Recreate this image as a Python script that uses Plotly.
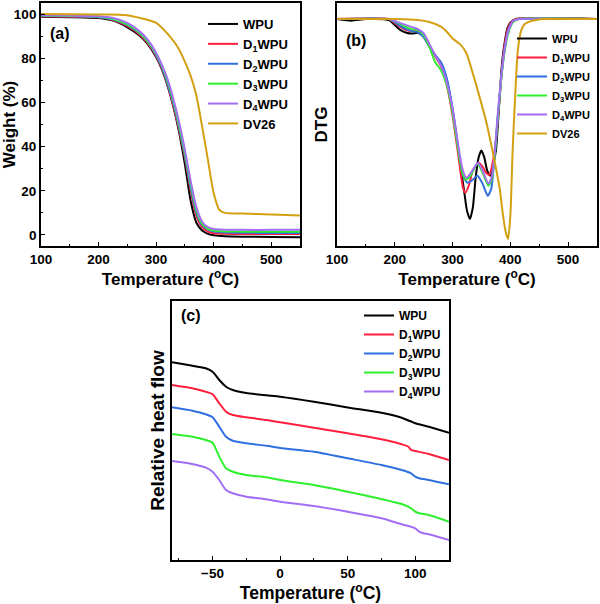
import plotly.graph_objects as go

# ---------------- Panel (a): TGA ----------------
tga_T = [100, 150, 200, 225, 250, 270, 285, 300, 310, 320, 330, 340, 350, 360, 370, 380, 390, 400, 420, 450, 500, 550]
tga_WPU = [98.8, 98.6, 98.2, 97.0, 94.0, 90.5, 86.5, 80.5, 75.0, 67.5, 58.0, 46.5, 32.0, 15.5, 5.5, 2.0, 0.5, -0.1, -0.6, -0.8, -0.9, -1.0]
tga_D1 = [99.0, 98.8, 98.5, 97.3, 94.5, 91.0, 87.0, 81.0, 75.5, 68.0, 58.5, 47.5, 35.0, 20.0, 8.5, 3.5, 1.5, 0.8, 0.5, 0.4, 0.4, 0.4]
tga_D2 = [99.2, 99.0, 98.6, 97.5, 95.0, 91.5, 87.5, 81.5, 76.0, 68.5, 59.5, 48.5, 36.0, 21.5, 10.0, 4.5, 2.5, 1.6, 1.1, 1.0, 0.9, 0.9]
tga_D3 = [99.3, 99.1, 98.8, 97.8, 95.3, 91.8, 87.8, 82.0, 76.5, 69.5, 60.5, 49.5, 37.0, 23.0, 11.0, 5.0, 2.8, 2.0, 1.6, 1.5, 1.4, 1.4]
tga_D4 = [99.5, 99.3, 99.0, 98.2, 96.0, 92.5, 88.5, 82.5, 77.0, 70.5, 61.5, 51.0, 38.5, 24.5, 12.5, 6.0, 3.5, 2.7, 2.4, 2.3, 2.3, 2.3]
tga_DV_T = [100, 200, 250, 300, 320, 340, 360, 370, 380, 390, 400, 410, 420, 450, 500, 550]
tga_DV26 = [100.0, 99.8, 99.5, 96.0, 91.0, 84.0, 72.0, 63.0, 49.0, 34.0, 19.0, 11.3, 10.0, 9.7, 9.3, 8.8]

# ---------------- Panel (b): DTG (arbitrary units) ----------------
dtg_WPU_T = [100, 125, 150, 190, 200, 210, 220, 230, 240, 250, 260, 270, 280, 290, 300, 310, 320, 325, 330, 335, 340, 345, 350, 355, 360, 365, 370, 375, 380, 385, 390, 395, 400, 410, 550]
dtg_WPU = [0, -0.08, 0, -0.05, -0.3, -0.55, -0.68, -0.72, -0.68, -0.88, -1.38, -1.8, -2.2, -3.05, -4.55, -6.55, -8.55, -9.55, -9.95, -9.4, -7.9, -6.9, -6.55, -6.9, -7.55, -7.8, -7.3, -6.55, -4.55, -2.4, -1.2, -0.45, -0.18, 0, 0]
dtg_D1_T = [100, 190, 200, 210, 220, 230, 240, 250, 260, 270, 280, 290, 300, 310, 318, 322, 328, 335, 345, 352, 358, 364, 370, 375, 380, 385, 390, 395, 400, 410, 550]
dtg_D1 = [0, 0, -0.2, -0.4, -0.55, -0.6, -0.6, -0.85, -1.35, -1.85, -2.35, -3.3, -4.8, -6.8, -8.4, -8.65, -8.3, -7.55, -7.15, -7.35, -7.65, -7.75, -7.05, -6.05, -4.45, -2.65, -1.3, -0.55, -0.2, 0, 0]
dtg_D2_T = [100, 190, 200, 210, 220, 230, 240, 250, 260, 270, 280, 290, 300, 310, 318, 326, 333, 343, 352, 361, 367, 372, 378, 384, 390, 395, 400, 405, 415, 550]
dtg_D2 = [0, 0, -0.15, -0.35, -0.5, -0.6, -0.65, -0.9, -1.35, -1.8, -2.15, -2.95, -4.45, -6.45, -7.8, -8.15, -8.05, -7.8, -8.2, -8.8, -8.45, -7.05, -5.05, -3.05, -1.55, -0.7, -0.3, -0.1, 0, 0]
dtg_D3_T = [100, 190, 200, 210, 220, 230, 240, 250, 260, 270, 280, 290, 300, 310, 317, 323, 330, 343, 352, 362, 368, 373, 378, 384, 390, 395, 400, 405, 415, 550]
dtg_D3 = [0, 0, -0.1, -0.25, -0.4, -0.5, -0.55, -0.8, -1.4, -2.15, -2.55, -3.3, -4.65, -6.55, -7.65, -8.0, -7.85, -7.2, -7.65, -8.3, -7.95, -6.8, -4.95, -3.05, -1.65, -0.85, -0.4, -0.15, 0, 0]
dtg_D4_T = [100, 190, 200, 210, 220, 230, 240, 250, 260, 270, 280, 290, 300, 310, 317, 324, 332, 344, 352, 362, 368, 373, 378, 384, 390, 395, 400, 405, 415, 550]
dtg_D4 = [0, 0, -0.1, -0.2, -0.3, -0.4, -0.5, -0.7, -1.25, -1.8, -2.3, -3.15, -4.45, -6.3, -7.45, -7.9, -7.65, -7.15, -7.55, -8.2, -7.85, -6.65, -4.8, -2.95, -1.55, -0.75, -0.35, -0.1, 0, 0]
dtg_DV_T = [100, 200, 240, 260, 280, 290, 300, 313, 324, 336, 347, 359, 368, 376, 382, 387, 392, 396, 400, 404, 408, 413, 419, 425, 433, 445, 460, 550]
dtg_DV26 = [0.02, 0.0, -0.05, -0.15, -0.38, -0.63, -0.97, -1.25, -1.7, -2.8, -3.9, -5.2, -6.4, -7.55, -8.5, -9.7, -10.6, -10.95, -9.8, -6.55, -4.05, -1.55, -0.55, -0.25, -0.13, -0.05, 0.0, 0.0]

# ---------------- Panel (c): DSC (relative heat flow) ----------------
dsc_T = [-80, -65, -55, -50, -45, -40, -35, -25, -10, 0, 25, 50, 75, 90, 95, 97, 100, 110, 125]
dsc_WPU = [19.77, 19.43, 19.17, 18.83, 18.0, 17.33, 17.0, 16.7, 16.47, 16.33, 15.83, 15.25, 14.73, 14.23, 13.95, 13.85, 13.67, 13.33, 12.73]
dsc_D1 = [17.5, 17.17, 16.83, 16.57, 15.67, 14.83, 14.5, 14.27, 14.0, 13.77, 13.23, 12.67, 12.07, 11.57, 11.33, 11.0, 10.9, 10.6, 10.0]
dsc_T2 = [-80, -65, -55, -50, -45, -40, -35, -25, -10, 0, 25, 50, 75, 90, 97, 100, 103, 110, 125]
dsc_D2 = [15.27, 14.93, 14.57, 14.27, 13.33, 12.33, 11.93, 11.67, 11.43, 11.2, 10.83, 10.17, 9.5, 9.0, 8.67, 8.33, 8.17, 8.0, 7.57]
dsc_D3 = [12.6, 12.33, 12.0, 11.73, 10.33, 9.17, 8.83, 8.5, 8.27, 8.0, 7.5, 6.83, 6.1, 5.6, 5.17, 4.83, 4.67, 4.5, 3.83]
dsc_T4 = [-80, -65, -55, -50, -45, -40, -35, -25, -10, 0, 25, 50, 75, 90, 100, 103, 106, 110, 125]
dsc_D4 = [9.9, 9.6, 9.23, 8.83, 8.0, 7.0, 6.67, 6.33, 6.07, 5.83, 5.4, 4.83, 4.17, 3.57, 3.17, 2.83, 2.67, 2.57, 2.0]

names = ["WPU", "D<sub>1</sub>WPU", "D<sub>2</sub>WPU", "D<sub>3</sub>WPU", "D<sub>4</sub>WPU", "DV26"]
colors = ["#000000", "#ff1f3d", "#2f6fe0", "#2ef02e", "#a36ef5", "#d3a012"]

FONT = "Liberation Sans"
W, H = 600, 604

def px(x):
    return x / W

def py(y):
    return 1 - y / H

fig = go.Figure()

tga_sets = [(tga_T, tga_WPU), (tga_T, tga_D1), (tga_T, tga_D2), (tga_T, tga_D3), (tga_T, tga_D4), (tga_DV_T, tga_DV26)]
dtg_sets = [(dtg_WPU_T, dtg_WPU), (dtg_D1_T, dtg_D1), (dtg_D2_T, dtg_D2), (dtg_D3_T, dtg_D3), (dtg_D4_T, dtg_D4), (dtg_DV_T, dtg_DV26)]
dsc_sets = [(dsc_T, dsc_WPU), (dsc_T, dsc_D1), (dsc_T2, dsc_D2), (dsc_T2, dsc_D3), (dsc_T4, dsc_D4)]

for i, (xs, ys) in enumerate(tga_sets):
    fig.add_trace(go.Scatter(x=xs, y=ys, mode="lines", name=names[i], line=dict(color=colors[i], width=2, shape="spline", smoothing=0.6),
                             xaxis="x", yaxis="y", legend="legend"))
for i, (xs, ys) in enumerate(dtg_sets):
    fig.add_trace(go.Scatter(x=xs, y=ys, mode="lines", name=names[i], line=dict(color=colors[i], width=2, shape="spline", smoothing=0.6),
                             xaxis="x2", yaxis="y2", legend="legend2"))
for i, (xs, ys) in enumerate(dsc_sets):
    fig.add_trace(go.Scatter(x=xs, y=ys, mode="lines", name=names[i], line=dict(color=colors[i], width=2, shape="spline", smoothing=0.6),
                             xaxis="x3", yaxis="y3", legend="legend3"))

tickfont = dict(family=FONT, size=13.5, color="black", weight="bold")
titlefont = dict(family=FONT, size=17, color="black", weight="bold")

def axis_common(**kw):
    d = dict(showline=True, linecolor="black", linewidth=1.8, mirror=True, ticks="inside", ticklen=4, tickwidth=1.3,
             tickcolor="black", showgrid=False, zeroline=False, tickfont=tickfont, title_font=titlefont, automargin=False)
    d.update(kw)
    return d

xa_title = "Temperature (<sup>o</sup>C)"

fig.update_layout(
    template="none",
    width=W, height=H, margin=dict(l=0, r=0, t=0, b=0, autoexpand=False),
    paper_bgcolor="white", plot_bgcolor="white",
    xaxis=axis_common(domain=[px(41), px(300)], range=[100, 550], dtick=100, tick0=100, anchor="y",
                      minor=dict(ticks="inside", ticklen=2, dtick=50, tickcolor="black"),
                      title=dict(text=xa_title, standoff=0)),
    yaxis=axis_common(domain=[py(246), py(3)], range=[-5, 105], dtick=20, anchor="x",
                      minor=dict(ticks="inside", ticklen=2, dtick=10, tickcolor="black"),
                      title=dict(text="Weight (%)", standoff=4)),
    xaxis2=axis_common(domain=[px(337), px(597)], range=[100, 550], dtick=100, tick0=100, anchor="y2",
                       minor=dict(ticks="inside", ticklen=2, dtick=50, tickcolor="black"),
                       title=dict(text=xa_title, standoff=0)),
    yaxis2=axis_common(domain=[py(246), py(3)], range=[-11.3, 0.8], anchor="x2", ticks="", showticklabels=False,
                       title=dict(text="DTG", standoff=3)),
    xaxis3=axis_common(domain=[px(172), px(449)], range=[-80, 125], dtick=50, tick0=0, anchor="y3",
                       minor=dict(ticks="inside", ticklen=2, dtick=25, tickcolor="black"),
                       title=dict(text=xa_title, standoff=4, font=dict(family=FONT, size=17.5, color="black", weight="bold"))),
    yaxis3=axis_common(domain=[py(560), py(301)], range=[0, 25.9], anchor="x3", ticks="", showticklabels=False,
                       title=dict(text="Relative heat flow", standoff=0, font=dict(family=FONT, size=19, color="black", weight="bold"))),
    legend=dict(x=px(203), y=py(9), xanchor="left", yanchor="top", bgcolor="rgba(0,0,0,0)",
                font=dict(family=FONT, size=13, color="black", weight="bold"), tracegroupgap=0),
    legend2=dict(x=px(512), y=py(24), xanchor="left", yanchor="top", bgcolor="rgba(0,0,0,0)",
                 font=dict(family=FONT, size=11, color="black", weight="bold"), tracegroupgap=0),
    legend3=dict(x=px(359), y=py(301), xanchor="left", yanchor="top", bgcolor="rgba(0,0,0,0)",
                 font=dict(family=FONT, size=12, color="black", weight="bold"), tracegroupgap=0),
    showlegend=True,
)

lab_font = dict(family=FONT, size=16, color="black", weight="bold")
for text, x, y in [("(a)", 48, 33), ("(b)", 344, 40), ("(c)", 179, 315)]:
    fig.add_annotation(text=text, xref="paper", yref="paper", x=px(x), y=py(y), xanchor="left", yanchor="middle",
                       showarrow=False, font=lab_font)

fig.write_html("out.html", config={"displayModeBar": False}, post_script="document.body.style.margin='0';")
